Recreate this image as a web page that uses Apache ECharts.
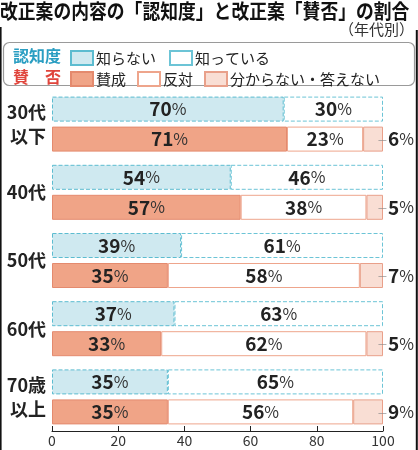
<!DOCTYPE html>
<html>
<head>
<meta charset="utf-8">
<script src="https://cdn.jsdelivr.net/npm/echarts@6/dist/echarts.min.js"></script>
<style>
html,body{margin:0;padding:0;background:#fff;}
#main{width:418px;height:450px;}
</style>
</head>
<body>
<div id="main"></div>
<script>
/*数据*/
var ages = ['30代\n以下', '40代', '50代', '60代', '70歳\n以上'];
var shiranai = [70, 54, 39, 37, 35];   // 知らない
var shitteiru = [30, 46, 61, 63, 65];  // 知っている
var sansei = [71, 57, 35, 33, 35];     // 賛成
var hantai = [23, 38, 58, 62, 56];     // 反対
var wakaranai = [6, 5, 7, 5, 9];       // 分からない・答えない
var xTicks = [0, 20, 40, 60, 80, 100];

var FONT = 'Noto Sans CJK JP';

function pct(p) {
	return '{n|' + p.value + '}{p|%}';
}
var richPct = {
	n: {fontFamily: FONT, fontSize: 19, fontWeight: 'bold', color: '#222'},
	p: {fontFamily: FONT, fontSize: 16, color: '#333'},
	d: {fontFamily: FONT, fontSize: 10, color: '#888', padding: [0, 1, 0, 0]}
};

function barSeries(name, data, stack, fill, border, dashed, labelPos) {
	return {
		name: name,
		type: 'bar',
		stack: stack,
		data: data,
		barWidth: 25,
		barGap: '20%',
		itemStyle: {
			color: fill,
			borderColor: border,
			borderWidth: 1,
			borderType: dashed ? 'dashed' : 'solid'
		},
		label: {
			show: true,
			position: labelPos || 'inside',
			distance: -5,
			formatter: labelPos ? function(p){ return '{d|—}' + pct(p); } : pct,
			rich: richPct
		}
	};
}

var option = {
	animation: false,
	textStyle: {fontFamily: FONT},
	title: {
		text: '（年代別）',
		right: 4, top: 22, padding: 0,
		textStyle: {fontFamily: FONT, fontSize: 15, fontWeight: 'normal', color: '#333'}
	},
	legend: [
		{
			data: ['知らない', '知っている'],
			left: 70, top: 50, padding: 0,
			icon: 'rect', itemWidth: 22, itemHeight: 14, itemGap: 13,
			textStyle: {fontFamily: FONT, fontSize: 15, color: '#222', padding: [0, 0, 0, -2]}
		},
		{
			data: ['賛成', '反対', '分からない・答えない'],
			left: 70, top: 71, padding: 0,
			icon: 'rect', itemWidth: 22, itemHeight: 14, itemGap: 11,
			textStyle: {fontFamily: FONT, fontSize: 15, color: '#222', padding: [0, 0, 0, -2]}
		}
	],
	graphic: [
		{type: 'text', x: 0, y: 1, scaleX: 0.89, style: {text: '改正案の内容の「認知度」と改正案「賛否」の割合', fill: '#111', font: 'bold 20px "Noto Sans CJK JP"'}},
		{type: 'rect', shape: {x: 3.5, y: 42.5, width: 411, height: 43, r: 6}, style: {fill: 'none', stroke: '#9a9a9a', lineWidth: 1.2}, z: 0},
		{type: 'text', left: 13, top: 48, style: {text: '認知度', fill: '#2a9ec2', font: 'bold 16px "Noto Sans CJK JP"'}},
		{type: 'text', left: 13, top: 69, style: {text: '賛　否', fill: '#e0453c', font: 'bold 16px "Noto Sans CJK JP"'}},
		{type: 'line', shape: {x1: 0.8, y1: 27, x2: 0.8, y2: 450}, style: {stroke: '#111', lineWidth: 1.6}},
		{type: 'line', shape: {x1: 416.8, y1: 30, x2: 416.8, y2: 450}, style: {stroke: '#111', lineWidth: 2}}
	],
	grid: {left: 52, right: 35, top: 90, bottom: 19},
	xAxis: {
		type: 'value',
		min: xTicks[0], max: xTicks[xTicks.length - 1], interval: 20,
		splitLine: {show: false},
		axisLine: {show: true, lineStyle: {color: '#222', width: 1}},
		axisTick: {show: true, inside: true, length: 5, lineStyle: {color: '#222'}},
		axisLabel: {fontFamily: FONT, fontSize: 14, color: '#333', margin: 3}
	},
	yAxis: {
		type: 'category',
		data: ages,
		inverse: true,
		axisLine: {show: false},
		axisTick: {show: false},
		axisLabel: {fontFamily: FONT, fontSize: 18, fontWeight: 'bold', color: '#222', lineHeight: 24, margin: 6}
	},
	series: [
		barSeries('知らない', shiranai, 'a', '#cfe9f0', '#5cbcd0', true),
		barSeries('知っている', shitteiru, 'a', '#ffffff', '#6cc4d6', true),
		barSeries('賛成', sansei, 'b', '#f0a487', '#e48a6e', false),
		barSeries('反対', hantai, 'b', '#ffffff', '#eea58c', false),
		barSeries('分からない・答えない', wakaranai, 'b', '#f9ded4', '#e9a08a', false, 'right')
	]
};

var ichart = echarts.init(document.getElementById('main'));
ichart.setOption(option);
</script>
</body>
</html>
